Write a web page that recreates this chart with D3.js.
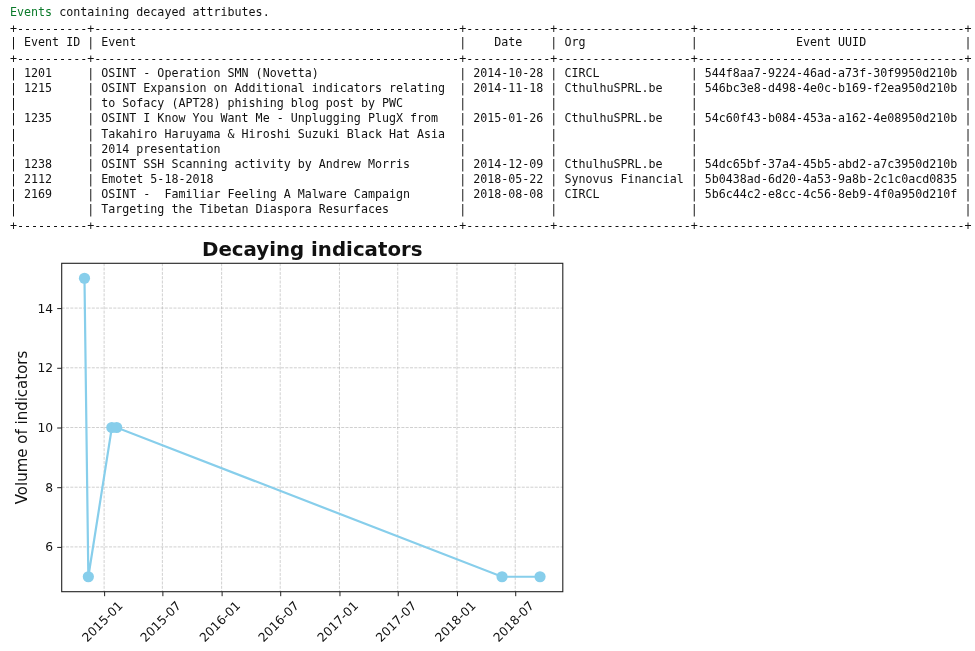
<!DOCTYPE html>
<html>
<head>
<meta charset="utf-8">
<script src="https://cdn.jsdelivr.net/npm/d3@7"></script>
<style>
  body { margin: 0; background: #fff; width: 975px; height: 651px; overflow: hidden; position: relative; }
  div.out { position: absolute; left: 10px; top: 5px; will-change: transform;
            font: 11.66px/15.2px "DejaVu Sans Mono", monospace; color: #111; }
  div.out div { white-space: pre; height: 15.2px; }
  div.out div.rule { position: relative; top: 1.5px; }
  div.out .grn { color: #0b7a2a; }
  svg { position: absolute; left: 0; top: 0; }
  svg text { font-family: "DejaVu Sans", sans-serif; fill: #111; }
</style>
</head>
<body>
<script>
// table data
var ids = ["1201", "1215", "1235", "1238", "2112", "2169"]
var events = [
  ["OSINT - Operation SMN (Novetta)"],
  ["OSINT Expansion on Additional indicators relating", "to Sofacy (APT28) phishing blog post by PWC"],
  ["OSINT I Know You Want Me - Unplugging PlugX from", "Takahiro Haruyama & Hiroshi Suzuki Black Hat Asia", "2014 presentation"],
  ["OSINT SSH Scanning activity by Andrew Morris"],
  ["Emotet 5-18-2018"],
  ["OSINT -  Familiar Feeling A Malware Campaign", "Targeting the Tibetan Diaspora Resurfaces"]
]
var eventDates = ["2014-10-28", "2014-11-18", "2015-01-26", "2014-12-09", "2018-05-22", "2018-08-08"]
var orgs = ["CIRCL", "CthulhuSPRL.be", "CthulhuSPRL.be", "CthulhuSPRL.be", "Synovus Financial", "CIRCL"]
var uuids = ["544f8aa7-9224-46ad-a73f-30f9950d210b", "546bc3e8-d498-4e0c-b169-f2ea950d210b",
  "54c60f43-b084-453a-a162-4e08950d210b", "54dc65bf-37a4-45b5-abd2-a7c3950d210b",
  "5b0438ad-6d20-4a53-9a8b-2c1c0acd0835", "5b6c44c2-e8cc-4c56-8eb9-4f0a950d210f"]
var headers = ["Event ID", "Event", "Date", "Org", "Event UUID"]
var centered = [false, false, true, false, true]

// chart data
var dates = ["2014-11-01", "2014-11-13", "2015-01-25", "2015-02-09", "2018-05-21", "2018-09-16"]
var volumes = [15, 5, 10, 10, 5, 5]
var yTicks = [6, 8, 10, 12, 14]

// ---- text table ----
var widths = [8, 50, 10, 17, 36]
function pad(s, w, mid) {
  var n = w - s.length
  if (!mid) return s + " ".repeat(n)
  var l = Math.floor(n / 2)
  return " ".repeat(l) + s + " ".repeat(n - l)
}
function row(cells, mid) {
  return "| " + cells.map(function(c, i) { return pad(c, widths[i], mid && mid[i]) }).join(" | ") + " |"
}
var rule = "+" + widths.map(function(w) { return "-".repeat(w + 2) }).join("+") + "+"
var lines = [rule, row(headers, centered), rule]
ids.forEach(function(id, i) {
  events[i].forEach(function(ev, j) {
    lines.push(j == 0 ? row([id, ev, eventDates[i], orgs[i], uuids[i]]) : row(["", ev, "", "", ""]))
  })
})
lines.push(rule)

var out = d3.select("body").append("div").attr("class", "out")
var head = out.append("div")
head.append("span").attr("class", "grn").text("Events")
head.append("span").text(" containing decayed attributes.")
out.selectAll("div.ln").data(lines).join("div")
  .attr("class", function(d) { return d[0] == "+" ? "ln rule" : "ln" })
  .text(function(d) { return d })

// ---- chart ----
var box = { left: 61.7, right: 562.8, top: 263.3, bottom: 591.7 }
var parse = d3.utcParse("%Y-%m-%d")
var pts = dates.map(function(d, i) { return { t: parse(d), v: volumes[i] } })

var tx = d3.extent(pts, function(d) { return d.t })
var tpad = (tx[1] - tx[0]) * 0.05
var x = d3.scaleUtc()
  .domain([new Date(+tx[0] - tpad), new Date(+tx[1] + tpad)])
  .range([box.left, box.right])
var vy = d3.extent(volumes)
var vpad = (vy[1] - vy[0]) * 0.05
var y = d3.scaleLinear().domain([vy[0] - vpad, vy[1] + vpad]).range([box.bottom, box.top])

var svg = d3.select("body").append("svg").attr("width", 975).attr("height", 651)

var xTickVals = x.ticks(d3.utcMonth.every(6))

// grid
var grid = svg.append("g").attr("stroke", "#b0b0b0").attr("stroke-opacity", 0.75)
  .attr("stroke-width", 0.8).attr("stroke-dasharray", "3,1.3")
grid.selectAll(".gx").data(xTickVals).join("line")
  .attr("x1", function(d) { return x(d) }).attr("x2", function(d) { return x(d) })
  .attr("y1", box.top).attr("y2", box.bottom)
grid.selectAll(".gy").data(yTicks).join("line")
  .attr("x1", box.left).attr("x2", box.right)
  .attr("y1", function(d) { return y(d) }).attr("y2", function(d) { return y(d) })

// line + markers
var line = d3.line().x(function(d) { return x(d.t) }).y(function(d) { return y(d.v) })
svg.append("path").datum(pts)
  .attr("d", line).attr("fill", "none").attr("stroke", "#87ceeb").attr("stroke-width", 2.2)
svg.selectAll(".dot").data(pts).join("circle")
  .attr("cx", function(d) { return x(d.t) }).attr("cy", function(d) { return y(d.v) })
  .attr("r", 5.6).attr("fill", "#87ceeb")

// axes
var xAxis = svg.append("g").attr("transform", "translate(0," + box.bottom + ")")
  .call(d3.axisBottom(x).tickValues(xTickVals).tickFormat(d3.utcFormat("%Y-%m")).tickSize(4.5).tickSizeOuter(0))
xAxis.selectAll("text")
  .attr("font-size", 12.3).attr("text-anchor", "middle").attr("dy", null).attr("y", null)
  .attr("dominant-baseline", "central")
  .attr("transform", "translate(-2,30) rotate(-45)")

var yAxis = svg.append("g").attr("transform", "translate(" + box.left + ",0)")
  .call(d3.axisLeft(y).tickValues(yTicks).tickSize(4.5).tickPadding(4).tickSizeOuter(0))
yAxis.selectAll("text").attr("font-size", 12.3)

svg.selectAll(".domain").remove()
svg.selectAll(".tick line").attr("stroke", "#222").attr("stroke-width", 1)

// frame
svg.append("rect").attr("x", box.left).attr("y", box.top)
  .attr("width", box.right - box.left).attr("height", box.bottom - box.top)
  .attr("fill", "none").attr("stroke", "#222").attr("stroke-width", 1.1)

svg.append("text").attr("x", (box.left + box.right) / 2).attr("y", 256)
  .attr("text-anchor", "middle").attr("font-size", 19.8).attr("font-weight", "bold")
  .text("Decaying indicators")

svg.append("text").attr("transform", "translate(22," + (box.top + box.bottom) / 2 + ") rotate(-90)")
  .attr("text-anchor", "middle").attr("dominant-baseline", "central").attr("font-size", 15)
  .text("Volume of indicators")
</script>
</body>
</html>
